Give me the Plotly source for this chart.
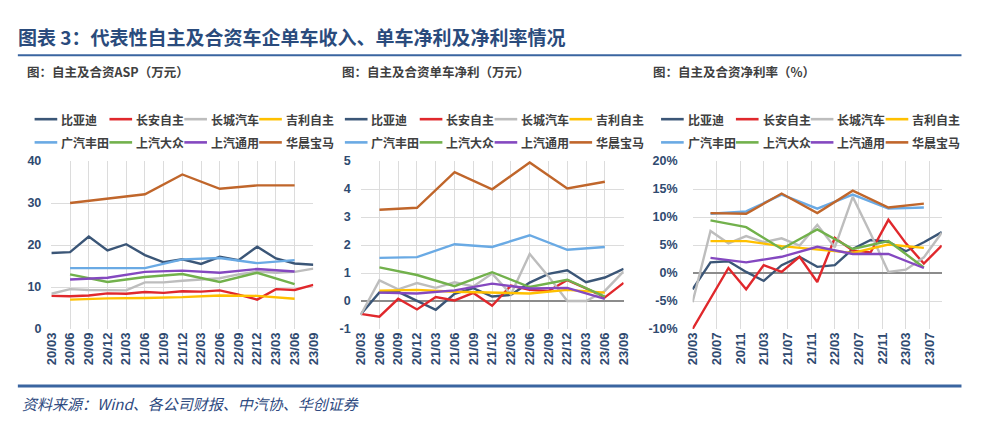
import plotly.graph_objects as go

# ---------------- data ----------------
quarters = ["20/03", "20/06", "20/09", "20/12", "21/03", "21/06", "21/09", "21/12",
            "22/03", "22/06", "22/09", "22/12", "23/03", "23/06", "23/09"]
companies = ["比亚迪", "长安自主", "长城汽车", "吉利自主", "广汽丰田", "上汽大众", "上汽通用", "华晨宝马"]
colors = ["#3B5677", "#E0282C", "#BDBDBD", "#FFC000", "#6AAAE4", "#72B14C", "#8448C0", "#C0662B"]
N = None

# ASP (万元)
asp_byd = [18.1, 18.3, 22.0, 18.7, 20.2, 17.6, 15.9, 16.6, 15.5, 17.2, 16.4, 19.6, 16.8, 15.6, 15.3]
asp_changan = [7.9, 7.8, 8.0, 8.5, 8.4, 8.8, 8.6, 9.0, 8.9, 9.2, 8.2, 7.0, 9.5, 9.3, 10.5]
asp_gwm = [8.4, 9.5, 9.3, 9.3, 9.2, 11.1, 11.1, 11.5, 11.8, 12.1, 13.0, 13.7, 13.4, 13.6, 14.4]
asp_geely = [N, 7.0, N, 7.3, N, 7.4, N, 7.6, N, 8.0, N, 7.9, N, 7.2, N]
asp_gac_toyota = [N, 14.5, N, 14.5, N, 14.5, N, 16.6, N, 16.9, N, 15.7, N, 16.4, N]
asp_svw = [N, 13.0, N, 11.2, N, 12.4, N, 13.1, N, 11.2, N, 13.4, N, 10.7, N]
asp_sgm = [N, 11.8, N, 12.2, N, 13.6, N, 13.9, N, 13.4, N, 14.3, N, 13.7, N]
asp_bmw = [N, 30.0, N, 31.1, N, 32.1, N, 36.8, N, 33.4, N, 34.2, N, 34.2, N]

# 单车净利 (万元)
np_byd = [-0.48, 0.31, 0.33, 0.0, -0.31, 0.26, 0.46, 0.16, 0.22, 0.66, 0.97, 1.10, 0.67, 0.84, 1.15]
np_changan = [-0.46, -0.56, 0.08, -0.30, 0.14, 0.02, 0.29, -0.17, 0.55, 0.40, 0.36, 0.75, 0.45, 0.13, 0.65]
np_gwm = [-0.50, 0.74, 0.42, 0.64, 0.47, 0.67, 0.52, 0.98, 0.24, 1.68, 0.88, 0.0, 0.0, 0.36, 1.06]
np_geely = [N, 0.37, N, 0.40, N, 0.33, N, 0.29, N, 0.27, N, 0.40, N, 0.30, N]
np_gac_toyota = [N, 1.54, N, 1.57, N, 2.03, N, 1.93, N, 2.35, N, 1.83, N, 1.93, N]
np_svw = [N, 1.20, N, 0.93, N, 0.53, N, 1.03, N, 0.50, N, 0.76, N, 0.16, N]
np_sgm = [N, 0.30, N, 0.27, N, 0.38, N, 0.62, N, 0.45, N, 0.47, N, 0.08, N]
np_bmw = [N, 3.26, N, 3.33, N, 4.60, N, 3.99, N, 4.95, N, 4.02, N, 4.26, N]

# 净利率 (%)
nm_byd = [-2.9, 1.9, 2.1, 0.2, -1.4, 1.4, 2.9, 1.1, 1.4, 4.3, 5.9, 5.6, 3.9, 5.5, 7.3]
nm_changan = [-10.0, -4.5, 0.9, -2.9, 1.4, 0.2, 2.9, -1.6, 6.3, 4.0, 3.7, 9.5, 5.3, 1.7, 4.9]
nm_gwm = [-5.2, 7.5, 5.3, 6.6, 5.5, 6.2, 4.9, 8.6, 4.6, 13.6, 7.0, 0.2, 0.6, 2.8, 7.2]
nm_geely = [N, 5.7, N, 5.7, N, 4.8, N, 4.2, N, 3.6, N, 5.1, N, 4.5, N]
nm_gac_toyota = [N, 10.6, N, 11.0, N, 14.0, N, 11.5, N, 14.0, N, 11.5, N, 11.7, N]
nm_svw = [N, 9.4, N, 8.2, N, 4.3, N, 7.8, N, 4.3, N, 5.7, N, 1.0, N]
nm_sgm = [N, 2.7, N, 1.9, N, 2.9, N, 4.7, N, 3.4, N, 3.4, N, 0.9, N]
nm_bmw = [N, 10.7, N, 10.6, N, 14.2, N, 10.7, N, 14.7, N, 11.7, N, 12.4, N]

asp_series = [asp_byd, asp_changan, asp_gwm, asp_geely, asp_gac_toyota, asp_svw, asp_sgm, asp_bmw]
np_series = [np_byd, np_changan, np_gwm, np_geely, np_gac_toyota, np_svw, np_sgm, np_bmw]
nm_series = [nm_byd, nm_changan, nm_gwm, nm_geely, nm_gac_toyota, nm_svw, nm_sgm, nm_bmw]

nm_ticks = [-10, -5, 0, 5, 10, 15, 20]
nm_ticktext = ["-10%", "-5%", "0%", "5%", "10%", "15%", "20%"]
np_ticks = [-1, 0, 1, 2, 3, 4, 5]
np_ticktext = ["-1", "0", "1", "2", "3", "4", "5"]

title_text = "图表 3：代表性自主及合资车企单车收入、单车净利及净利率情况"
subtitles = ["图：自主及合资ASP（万元）", "图：自主及合资单车净利（万元）", "图：自主及合资净利率（%）"]
source_text = "资料来源：Wind、各公司财报、中汽协、华创证券"

# ---------------- layout helpers ----------------
W, H = 1000, 425


def px(x):
    return x / W


def py(y):
    return 1 - y / H


CJK = "Noto Sans CJK SC"
TICK_FONT = dict(family="Liberation Sans, " + CJK, size=12.5, color="#2F4A70", weight="bold")
XTICK_FONT = dict(family="Liberation Sans, " + CJK, size=13, color="#2F4A70", weight="bold")
GRID = "#DCDCDC"

# date positions for panel 3 (date axis)
q_dates = ["20%s-%s-01" % (q[:2], q[3:]) for q in quarters]

fig = go.Figure()

for i, name in enumerate(companies):
    fig.add_trace(go.Scatter(x=quarters, y=asp_series[i], name=name, mode="lines",
                             line=dict(color=colors[i], width=2.4), connectgaps=True,
                             showlegend=False, xaxis="x", yaxis="y"))
for i, name in enumerate(companies):
    fig.add_trace(go.Scatter(x=quarters, y=np_series[i], name=name, mode="lines",
                             line=dict(color=colors[i], width=2.4), connectgaps=True,
                             showlegend=False, xaxis="x2", yaxis="y2"))
for i, name in enumerate(companies):
    fig.add_trace(go.Scatter(x=q_dates, y=nm_series[i], name=name, mode="lines",
                             line=dict(color=colors[i], width=2.4), connectgaps=True,
                             showlegend=False, xaxis="x3", yaxis="y3"))

ydom = [py(333), py(159.3)]

common_x = dict(showgrid=True, gridcolor=GRID, gridwidth=1, zeroline=False, showline=False,
                tickangle=-90, tickfont=XTICK_FONT, ticks="", fixedrange=True)
common_y = dict(showgrid=True, gridcolor=GRID, gridwidth=1, showline=False,
                tickfont=TICK_FONT, ticks="", fixedrange=True)

fig.update_layout(
    width=W, height=H,
    margin=dict(l=0, r=0, t=0, b=0),
    paper_bgcolor="white", plot_bgcolor="white",
    showlegend=False,
    xaxis=dict(common_x, domain=[px(44), px(310)], type="category", range=[0, 14], anchor="y"),
    yaxis=dict(common_y, domain=ydom, range=[0, 40], dtick=10, zeroline=False, anchor="x",
               ticklabelstandoff=9),
    xaxis2=dict(common_x, domain=[px(358), px(625)], type="category", range=[0, 14], anchor="y2"),
    yaxis2=dict(common_y, domain=ydom, range=[-1, 5], tickvals=np_ticks, ticktext=np_ticktext,
                zeroline=True, zerolinecolor="#8C8C8C", zerolinewidth=1.6, anchor="x2",
                ticklabelstandoff=9),
    xaxis3=dict(common_x, domain=[px(695), px(948)], type="date",
                range=[q_dates[0], q_dates[-1]], tick0=q_dates[0], dtick="M4",
                tickformat="%y/%m", anchor="y3"),
    yaxis3=dict(common_y, domain=ydom, range=[-10, 20], tickvals=nm_ticks, ticktext=nm_ticktext,
                zeroline=True, zerolinecolor="#8C8C8C", zerolinewidth=1.6, anchor="x3",
                ticklabelstandoff=14),
)

shapes = []
annotations = []

# title
annotations.append(dict(text=title_text, x=px(8), y=py(30), xref="paper", yref="paper",
                        xanchor="left", yanchor="middle", showarrow=False,
                        font=dict(family=CJK, size=19, color="#2A4B7C", weight="bold")))
shapes.append(dict(type="line", xref="paper", yref="paper", x0=px(10), x1=px(968),
                   y0=py(50), y1=py(50), line=dict(color="#3A65A0", width=2)))

# subtitles
for sx, st in zip([17, 337, 653], subtitles):
    annotations.append(dict(text=st, x=px(sx), y=py(67), xref="paper", yref="paper",
                            xanchor="left", yanchor="middle", showarrow=False,
                            font=dict(family=CJK, size=12.5, color="#404040", weight="bold")))

# legends (manual, one per panel)
col_off = [0, 76, 152, 228]
row_y = [116, 140]
for L in [27, 342, 663]:
    for i, name in enumerate(companies):
        cx = L + col_off[i % 4]
        ry = row_y[i // 4]
        shapes.append(dict(type="line", xref="paper", yref="paper", x0=px(cx), x1=px(cx + 23),
                           y0=py(ry), y1=py(ry), line=dict(color=colors[i], width=2.6)))
        annotations.append(dict(text=name, x=px(cx + 25), y=py(ry), xref="paper", yref="paper",
                                xanchor="left", yanchor="middle", showarrow=False,
                                font=dict(family=CJK, size=12, color="#404040", weight="bold")))

# bottom rule and source
shapes.append(dict(type="line", xref="paper", yref="paper", x0=px(10), x1=px(968),
                   y0=py(392), y1=py(392), line=dict(color="#3A65A0", width=3)))
annotations.append(dict(text=source_text, x=px(12), y=py(410), xref="paper", yref="paper",
                        xanchor="left", yanchor="middle", showarrow=False,
                        font=dict(family=CJK, size=15, color="#2E4A80", style="italic")))

fig.update_layout(shapes=shapes, annotations=annotations)

fig.write_html("out.html",
               config={"displayModeBar": False, "staticPlot": False},
               post_script="document.body.style.margin='0';document.body.style.overflow='hidden';")
